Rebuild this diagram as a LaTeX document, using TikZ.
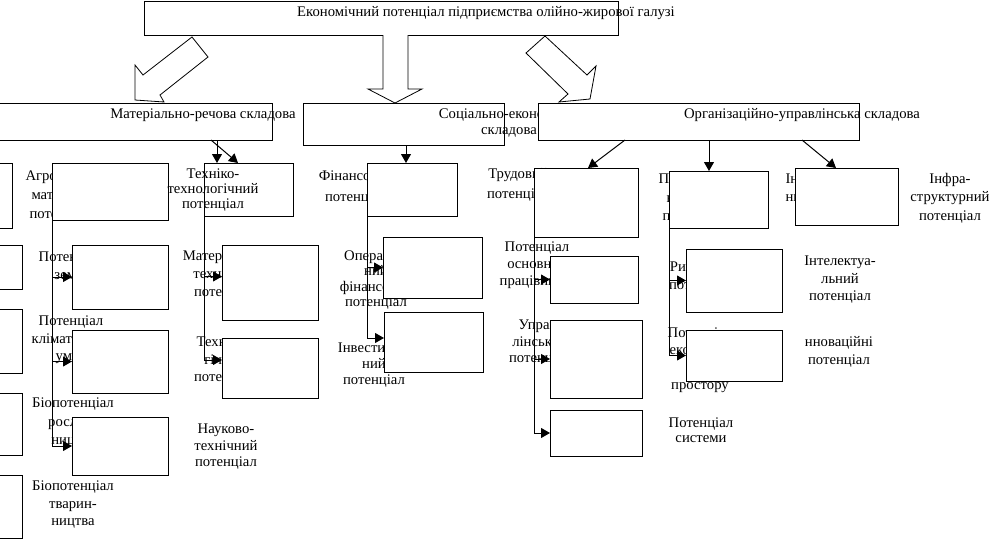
\documentclass[tikz,border=0pt]{standalone}
\usepackage{fontspec}
\setmainfont{Liberation Serif}
\usetikzlibrary{arrows.meta, calc}

% box from (x1,y1) to (x2,y2), pixel units
\newcommand{\pbox}[5]{%
  \node[box, minimum width={(#4)-(#2)}, minimum height={(#5)-(#3)}] (#1) at (#2,#3) {};}

\begin{document}
\begin{tikzpicture}[x=1pt, y=-1pt, line width=1pt,
    >={Triangle[length=9pt,width=10pt]},
    box/.style={draw, fill=white, anchor=north west, inner sep=0pt, outer sep=0pt},
    lbl/.style={align=center, inner sep=0pt, font=\fontsize{14.7}{#1}\selectfont},
    lbl/.default=17,
    hollow/.style={line width=0.8pt, fill=white}]
  \useasboundingbox (0,0) rectangle (1005,541);

  % labels under the boxes
  \node[lbl=19, anchor=west, align=left] (agrotxt) at (25,196) {Агро-\\\hspace{6pt}матеріальний\\\hspace{4pt}потенціал};
  \node[lbl=18] (zemtxt) at (71,266) {Потенціал\\землі};
  \node[lbl=17.5] (climtxt) at (71,340) {Потенціал\\кліматичних\\умов};
  \node[lbl=18.5] (biortxt) at (73,423) {Біопотенціал\\рослин-\\ництва};
  \node[lbl=18] (mattechtxt) at (225,275) {Матеріально-\\технічний\\потенціал};
  \node[lbl=17.5] (techntxt) at (225,361) {Техноло-\\гічний\\потенціал};
  \node[lbl=21] (fintxt) at (356,187) {Фінансовий\\потенціал};
  \node[lbl=15.3] (opertxt) at (376,280) {Операцій-\\ний\\фінансовий\\потенціал};
  \node[lbl=16] (investtxt) at (374,365) {Інвестицій-\\ний\\потенціал};
  \node[lbl=20] (trudtxt) at (518,185) {Трудовий\\потенціал};
  \node[lbl=17] (osntxt) at (537,265) {Потенціал\\основних\\працівників};
  \node[lbl=16.5] (uprtxt) at (540,343) {Управ-\\лінський\\потенціал};
  \node[lbl=18.5, anchor=west, align=left] (orgptxt) at (658,199) {Потенціал\\\hspace{8pt}виробничої\\\hspace{4pt}програми};
  \node[lbl=18] (rynktxt) at (700,277) {Ринковий\\потенціал};
  \node[lbl=17.3] (ekprtxt) at (700,360) {Потенціал\\економіч-\\ного\\простору};
  \node[lbl=18, anchor=west, align=left] (infotxt) at (785,189) {Інформацій-\\ний потенціал};

  % boxes
  \pbox{top}{144}{1}{618}{35}
  \pbox{mat}{-5}{103}{272}{140}
  \pbox{soc}{303}{103}{504}{145}
  \node[lbl=16] (soctxt) at (509,123) {Соціально-економічна\\складова};
  \pbox{org}{538}{103}{859}{140}
  \pbox{fl1}{-5}{163}{12}{228}
  \pbox{fl2}{-5}{245}{22}{289}
  \pbox{fl3}{-5}{309}{22}{373}
  \pbox{fl4}{-5}{393}{22}{455}
  \pbox{fl5}{-5}{475}{22}{538}
  \pbox{agro}{52}{163}{168}{220}
  \pbox{zem}{72}{245}{168}{309}
  \pbox{clim}{72}{330}{168}{393}
  \pbox{bior}{72}{417}{168}{475}
  \pbox{tech}{204}{163}{293}{216}
  \pbox{mattech}{222}{245}{318}{320}
  \pbox{techn}{222}{338}{318}{398}
  \pbox{fin}{367}{163}{457}{216}
  \pbox{oper}{383}{237}{482}{298}
  \pbox{invest}{384}{312}{483}{372}
  \pbox{trud}{534}{168}{638}{237}
  \pbox{osn}{550}{256}{638}{303}
  \pbox{upr}{550}{320}{642}{398}
  \pbox{sys}{550}{410}{642}{456}
  \pbox{orgp}{669}{171}{768}{228}
  \pbox{intel}{686}{249}{782}{312}
  \pbox{innov}{686}{330}{782}{381}
  \pbox{infra}{795}{168}{898}{225}

  % connectors
  \draw[->] ($(mat.south -| tech.west)+(13,0)$) -- ($(tech.north west)+(13,0)$);
  \draw[->] ($(mat.south -| tech.west)+(7,0)$) -- ($(tech.north west)+(34,0)$);
  \draw[->] ($(soc.south -| fin.west)+(39,0)$) -- ($(fin.north west)+(39,0)$);
  \draw[->] ($(org.south -| trud.west)+(91,0)$) -- ($(trud.north west)+(54,0)$);
  \draw[->] ($(org.south -| orgp.west)+(40,0)$) -- ($(orgp.north west)+(40,0)$);
  \draw[->] ($(org.south -| infra.west)+(7,0)$) -- ($(infra.north west)+(41,0)$);
  \foreach \b in {zem,clim,bior}
    \draw[->] (agro.south west) |- (\b.west);
  \draw[->] (tech.south west) |- ([yshift=6pt]mattech.west);
  \draw[->] (tech.south west) |- ([yshift=8pt]techn.west);
  \draw[->] (fin.south west) |- (oper.west);
  \draw[->] (fin.south west) |- ([yshift=4pt]invest.west);
  \foreach \b in {osn,upr,sys}
    \draw[->] (trud.south west) |- (\b.west);
  \foreach \b in {intel,innov}
    \draw[->] (orgp.south west) |- (\b.west);

  % labels on top
  \node[lbl] (toptxt) at (486,13) {Економічний потенціал підприємства олійно-жирової галузі};
  \node[lbl] (mattxt) at (203,115) {Матеріально-речова складова};
  \node[lbl] (orgtxt) at (802,115) {Організаційно-управлінська складова};
  \node[lbl=15] (techtxt) at (213,190) {Техніко-\\технологічний\\потенціал};
  \node[lbl=16.5] (scitxt) at (226,447) {Науково-\\технічний\\потенціал};
  \node[lbl=17.5] (biottxt) at (73,505) {Біопотенціал\\тварин-\\ництва};
  \node[lbl=18.5] (infratxt) at (950,198) {Інфра-\\структурний\\потенціал};
  \node[lbl=17.5] (inteltxt) at (840,280) {Інтелектуа-\\льний\\потенціал};
  \node[lbl=18] (innovtxt) at (839,352) {нноваційні\\потенціал};
  \node[lbl=15] (systxt) at (701,430) {Потенціал\\системи};

  % hollow arrows
  \draw[hollow] (192,37) -- (208,57) -- (160,95) -- (164,102) -- (135,100) -- (135,65) -- (143,75) -- cycle;
  \draw[hollow] (383,35) -- (383,89) -- (368,89) -- (395,103) -- (422,89) -- (408,89) -- (408,35);
  \draw[hollow] (545,36) -- (587,75) -- (596,66) -- (590,99) -- (559,102) -- (568,94) -- (526,53) -- cycle;
\end{tikzpicture}
\end{document}
